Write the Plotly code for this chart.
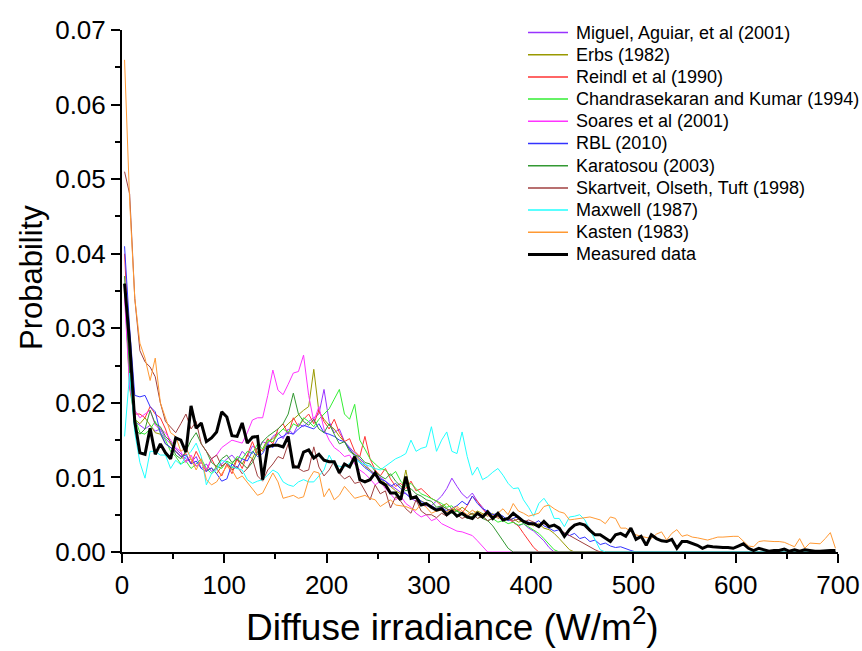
import plotly.graph_objects as go

# Bin centres of the diffuse irradiance histogram (W/m2), 5 W/m2 bins
N_BINS = 140
bin_centers = [2.5 + 5 * i for i in range(N_BINS)]

measured = [
    0.0360, 0.0280, 0.0175, 0.0133, 0.0131, 0.0166, 0.0131, 0.0145, 0.0133, 0.0125,
    0.0153, 0.0150, 0.0134, 0.0196, 0.0166, 0.0173, 0.0148, 0.0153, 0.0161, 0.0188,
    0.0181, 0.0156, 0.0155, 0.0173, 0.0146, 0.0154, 0.0155, 0.0097, 0.0141, 0.0143,
    0.0143, 0.0141, 0.0155, 0.0114, 0.0114, 0.0134, 0.0137, 0.0126, 0.0131, 0.0123,
    0.0121, 0.0121, 0.0106, 0.0118, 0.0114, 0.0128, 0.0097, 0.0094, 0.0097, 0.0106,
    0.0094, 0.0090, 0.0079, 0.0079, 0.0070, 0.0101, 0.0072, 0.0074, 0.0063, 0.0065,
    0.0060, 0.0056, 0.0058, 0.0050, 0.0055, 0.0048, 0.0052, 0.0047, 0.0045, 0.0052,
    0.0047, 0.0054, 0.0045, 0.0052, 0.0043, 0.0045, 0.0052, 0.0047, 0.0041, 0.0038,
    0.0038, 0.0034, 0.0041, 0.0034, 0.0036, 0.0032, 0.0021, 0.0030, 0.0036, 0.0038,
    0.0036, 0.0029, 0.0023, 0.0023, 0.0018, 0.0014, 0.0023, 0.0025, 0.0021, 0.0032,
    0.0017, 0.0021, 0.0009, 0.0023, 0.0018, 0.0015, 0.0014, 0.0017, 0.0005, 0.0014,
    0.0014, 0.0012, 0.0009, 0.0005, 0.0008, 0.0007, 0.0006, 0.0006, 0.0006, 0.0005,
    0.0008, 0.0011, 0.0005, 0.0002, 0.0005, 0.0003, 0.0001, 0.0002, 0.0002, 0.0004,
    0.0001, 0.0003, 0.0001, 0.0003, 0.0002, 0.0001, 0.0001, 0.0002, 0.0002, 0.0002,
]

kasten = [
    0.0660, 0.0470, 0.0340, 0.0280, 0.0260, 0.0230, 0.0260, 0.0200, 0.0180, 0.0160,
    0.0155, 0.0135, 0.0140, 0.0125, 0.0110, 0.0125, 0.0097, 0.0090, 0.0094, 0.0105,
    0.0115, 0.0110, 0.0098, 0.0102, 0.0093, 0.0085, 0.0076, 0.0079, 0.0092, 0.0106,
    0.0094, 0.0072, 0.0074, 0.0076, 0.0072, 0.0074, 0.0097, 0.0108, 0.0106, 0.0074,
    0.0085, 0.0070, 0.0076, 0.0088, 0.0080, 0.0072, 0.0074, 0.0076, 0.0072, 0.0070,
    0.0061, 0.0066, 0.0070, 0.0063, 0.0062, 0.0061, 0.0058, 0.0056, 0.0065, 0.0060,
    0.0052, 0.0055, 0.0056, 0.0054, 0.0058, 0.0061, 0.0055, 0.0050, 0.0056, 0.0052,
    0.0050, 0.0054, 0.0048, 0.0052, 0.0058, 0.0050, 0.0065, 0.0055, 0.0052, 0.0048,
    0.0050, 0.0052, 0.0061, 0.0063, 0.0058, 0.0054, 0.0052, 0.0043, 0.0044, 0.0045,
    0.0046, 0.0047, 0.0045, 0.0043, 0.0038, 0.0047, 0.0045, 0.0032, 0.0032, 0.0027,
    0.0023, 0.0021, 0.0019, 0.0018, 0.0024, 0.0027, 0.0016, 0.0025, 0.0030, 0.0021,
    0.0023, 0.0020, 0.0019, 0.0018, 0.0016, 0.0018, 0.0020, 0.0020, 0.0021, 0.0021,
    0.0021, 0.0015, 0.0008, 0.0007, 0.0014, 0.0015, 0.0014, 0.0014, 0.0014, 0.0013,
    0.0010, 0.0007, 0.0018, 0.0005, 0.0012, 0.0011, 0.0011, 0.0018, 0.0026, 0.0005,
]

skartveit = [
    0.0510, 0.0480, 0.0340, 0.0270, 0.0255, 0.0248, 0.0235, 0.0200, 0.0175, 0.0168,
    0.0160, 0.0172, 0.0185, 0.0165, 0.0175, 0.0145, 0.0135, 0.0125, 0.0130, 0.0115,
    0.0120, 0.0110, 0.0115, 0.0105, 0.0112, 0.0125, 0.0102, 0.0095, 0.0110, 0.0118,
    0.0128, 0.0125, 0.0145, 0.0118, 0.0112, 0.0108, 0.0110, 0.0141, 0.0114, 0.0102,
    0.0110, 0.0122, 0.0105, 0.0098, 0.0102, 0.0092, 0.0094, 0.0081, 0.0070, 0.0090,
    0.0078, 0.0082, 0.0059, 0.0074, 0.0068, 0.0058, 0.0052, 0.0070, 0.0055, 0.0050,
    0.0050, 0.0046, 0.0052, 0.0048, 0.0055, 0.0050, 0.0045, 0.0048, 0.0052, 0.0045,
    0.0048, 0.0042, 0.0045, 0.0048, 0.0044, 0.0046, 0.0042, 0.0044, 0.0040, 0.0043,
    0.0040, 0.0036, 0.0038, 0.0034, 0.0036, 0.0030, 0.0026, 0.0022, 0.0018, 0.0014,
    0.0010, 0.0006, 0.0003,
]

rbl = [
    0.0410, 0.0300, 0.0210, 0.0208, 0.0210, 0.0195, 0.0188, 0.0160, 0.0145, 0.0140,
    0.0135, 0.0128, 0.0130, 0.0118, 0.0122, 0.0112, 0.0108, 0.0113, 0.0105, 0.0095,
    0.0098, 0.0118, 0.0112, 0.0125, 0.0122, 0.0135, 0.0128, 0.0132, 0.0145, 0.0140,
    0.0152, 0.0155, 0.0160, 0.0158, 0.0165, 0.0170, 0.0168, 0.0165, 0.0172, 0.0160,
    0.0158, 0.0155, 0.0150, 0.0148, 0.0138, 0.0128, 0.0120, 0.0113, 0.0108, 0.0102,
    0.0098, 0.0095, 0.0088, 0.0092, 0.0085, 0.0078, 0.0072, 0.0075, 0.0068, 0.0064,
    0.0062, 0.0058, 0.0060, 0.0055, 0.0058, 0.0062, 0.0068, 0.0063, 0.0075, 0.0065,
    0.0058, 0.0055, 0.0050, 0.0052, 0.0048, 0.0042, 0.0045, 0.0048, 0.0042, 0.0040,
    0.0038, 0.0042, 0.0035, 0.0032, 0.0028, 0.0030, 0.0025, 0.0022, 0.0025, 0.0018,
    0.0020, 0.0014, 0.0016, 0.0010, 0.0012, 0.0008, 0.0006, 0.0007, 0.0004, 0.0002,
]

karatosou = [
    0.0370, 0.0240, 0.0165, 0.0158, 0.0165, 0.0190, 0.0172, 0.0168, 0.0155, 0.0148,
    0.0130, 0.0125, 0.0135, 0.0150, 0.0160, 0.0145, 0.0135, 0.0120, 0.0115, 0.0125,
    0.0130, 0.0120, 0.0125, 0.0118, 0.0112, 0.0120, 0.0135, 0.0148, 0.0155, 0.0160,
    0.0165, 0.0172, 0.0185, 0.0213, 0.0185, 0.0175, 0.0170, 0.0178, 0.0165, 0.0160,
    0.0172, 0.0158, 0.0145, 0.0148, 0.0135, 0.0130, 0.0128, 0.0120, 0.0118, 0.0108,
    0.0102, 0.0098, 0.0105, 0.0095, 0.0088, 0.0082, 0.0085, 0.0078, 0.0075, 0.0070,
    0.0068, 0.0060, 0.0062, 0.0058, 0.0052, 0.0055, 0.0050, 0.0045, 0.0048, 0.0052,
    0.0045, 0.0042, 0.0035, 0.0025, 0.0014, 0.0005,
]

chandrasekaran = [
    0.0360, 0.0240, 0.0180, 0.0160, 0.0158, 0.0165, 0.0175, 0.0160, 0.0150, 0.0135,
    0.0128, 0.0118, 0.0122, 0.0112, 0.0118, 0.0125, 0.0112, 0.0105, 0.0115, 0.0112,
    0.0122, 0.0118, 0.0128, 0.0125, 0.0135, 0.0132, 0.0145, 0.0138, 0.0150, 0.0148,
    0.0158, 0.0165, 0.0160, 0.0172, 0.0168, 0.0180, 0.0175, 0.0168, 0.0178, 0.0185,
    0.0192, 0.0205, 0.0218, 0.0185, 0.0178, 0.0198, 0.0150, 0.0138, 0.0125, 0.0118,
    0.0112, 0.0110, 0.0102, 0.0108, 0.0095, 0.0088, 0.0092, 0.0085, 0.0078, 0.0075,
    0.0072, 0.0068, 0.0065, 0.0060, 0.0062, 0.0055, 0.0052, 0.0048, 0.0052, 0.0045,
    0.0048, 0.0042, 0.0045, 0.0040, 0.0042, 0.0038, 0.0040, 0.0036, 0.0038, 0.0034,
    0.0030, 0.0025, 0.0018, 0.0010, 0.0003,
]

miguel = [
    0.0350, 0.0230, 0.0175, 0.0170, 0.0165, 0.0170, 0.0162, 0.0165, 0.0152, 0.0145,
    0.0138, 0.0132, 0.0125, 0.0120, 0.0128, 0.0112, 0.0118, 0.0108, 0.0112, 0.0118,
    0.0125, 0.0130, 0.0122, 0.0135, 0.0128, 0.0142, 0.0138, 0.0148, 0.0145, 0.0155,
    0.0160, 0.0152, 0.0165, 0.0158, 0.0172, 0.0168, 0.0175, 0.0180, 0.0185, 0.0218,
    0.0175, 0.0160, 0.0165, 0.0148, 0.0140, 0.0132, 0.0125, 0.0118, 0.0110, 0.0105,
    0.0100, 0.0095, 0.0090, 0.0085, 0.0080, 0.0078, 0.0072, 0.0068, 0.0065, 0.0062,
    0.0062, 0.0068, 0.0075, 0.0085, 0.0099, 0.0088, 0.0078, 0.0072, 0.0079, 0.0068,
    0.0060, 0.0050, 0.0045, 0.0048, 0.0042, 0.0045, 0.0040, 0.0035, 0.0038, 0.0032,
    0.0028, 0.0022, 0.0015, 0.0006,
]

erbs = [
    0.0360, 0.0220, 0.0178, 0.0172, 0.0180, 0.0170, 0.0160, 0.0158, 0.0145, 0.0140,
    0.0135, 0.0128, 0.0122, 0.0125, 0.0115, 0.0120, 0.0110, 0.0112, 0.0105, 0.0115,
    0.0120, 0.0112, 0.0125, 0.0118, 0.0130, 0.0125, 0.0140, 0.0135, 0.0148, 0.0152,
    0.0158, 0.0165, 0.0172, 0.0178, 0.0185, 0.0190, 0.0195, 0.0245, 0.0188, 0.0178,
    0.0170, 0.0165, 0.0155, 0.0148, 0.0138, 0.0130, 0.0122, 0.0115, 0.0110, 0.0102,
    0.0098, 0.0092, 0.0088, 0.0082, 0.0078, 0.0110, 0.0075, 0.0072, 0.0068, 0.0065,
    0.0062, 0.0058, 0.0062, 0.0065, 0.0058, 0.0055, 0.0060, 0.0055, 0.0050, 0.0055,
    0.0052, 0.0048, 0.0052, 0.0045, 0.0048, 0.0042, 0.0045, 0.0040, 0.0042, 0.0038,
    0.0035, 0.0038, 0.0032, 0.0030, 0.0025, 0.0018, 0.0010, 0.0003,
]

reindl = [
    0.0400, 0.0260, 0.0185, 0.0185, 0.0180, 0.0195, 0.0185, 0.0180, 0.0165, 0.0145,
    0.0135, 0.0128, 0.0132, 0.0118, 0.0135, 0.0122, 0.0108, 0.0125, 0.0112, 0.0102,
    0.0118, 0.0105, 0.0125, 0.0112, 0.0130, 0.0148, 0.0130, 0.0138, 0.0152, 0.0145,
    0.0165, 0.0172, 0.0158, 0.0180, 0.0168, 0.0178, 0.0185, 0.0172, 0.0190, 0.0175,
    0.0165, 0.0178, 0.0160, 0.0148, 0.0152, 0.0135, 0.0128, 0.0155, 0.0125, 0.0110,
    0.0102, 0.0112, 0.0098, 0.0088, 0.0092, 0.0085, 0.0095, 0.0082, 0.0085, 0.0078,
    0.0072, 0.0068, 0.0062, 0.0058, 0.0055, 0.0058, 0.0052, 0.0062, 0.0075, 0.0068,
    0.0058, 0.0050, 0.0045, 0.0048, 0.0042, 0.0045, 0.0040, 0.0035, 0.0025, 0.0015,
    0.0006,
]

soares = [
    0.0340, 0.0220, 0.0190, 0.0180, 0.0185, 0.0190, 0.0170, 0.0165, 0.0160, 0.0150,
    0.0140, 0.0135, 0.0120, 0.0130, 0.0115, 0.0120, 0.0110, 0.0125, 0.0130, 0.0140,
    0.0145, 0.0150, 0.0148, 0.0146, 0.0160, 0.0177, 0.0180, 0.0180, 0.0210, 0.0244,
    0.0217, 0.0211, 0.0225, 0.0240, 0.0242, 0.0264, 0.0210, 0.0175, 0.0195, 0.0165,
    0.0150, 0.0140, 0.0135, 0.0128, 0.0130, 0.0118, 0.0110, 0.0105, 0.0098, 0.0090,
    0.0095, 0.0085, 0.0078, 0.0070, 0.0075, 0.0065, 0.0060, 0.0052, 0.0047, 0.0050,
    0.0042, 0.0045, 0.0038, 0.0035, 0.0032, 0.0028, 0.0027, 0.0025, 0.0022, 0.0015,
    0.0008,
]

maxwell = [
    0.0155, 0.0240, 0.0160, 0.0120, 0.0099, 0.0135, 0.0135, 0.0130, 0.0130, 0.0112,
    0.0123, 0.0117, 0.0128, 0.0135, 0.0146, 0.0128, 0.0090, 0.0105, 0.0110, 0.0123,
    0.0120, 0.0114, 0.0112, 0.0110, 0.0097, 0.0092, 0.0095, 0.0097, 0.0103, 0.0110,
    0.0106, 0.0094, 0.0090, 0.0088, 0.0094, 0.0097, 0.0094, 0.0094, 0.0102, 0.0110,
    0.0130, 0.0117, 0.0115, 0.0114, 0.0119, 0.0125, 0.0120, 0.0118, 0.0115, 0.0112,
    0.0110, 0.0115, 0.0120, 0.0125, 0.0128, 0.0132, 0.0150, 0.0135, 0.0139, 0.0141,
    0.0168, 0.0135, 0.0150, 0.0161, 0.0135, 0.0132, 0.0161, 0.0128, 0.0103, 0.0114,
    0.0097, 0.0101, 0.0107, 0.0112, 0.0103, 0.0092, 0.0085, 0.0086, 0.0070, 0.0060,
    0.0048, 0.0065, 0.0072, 0.0062, 0.0045, 0.0045, 0.0034, 0.0047, 0.0048, 0.0050,
    0.0043, 0.0030, 0.0015, 0.0003,
]

series_names = [
    "Miguel, Aguiar, et al (2001)",
    "Erbs (1982)",
    "Reindl et al (1990)",
    "Chandrasekaran and Kumar (1994)",
    "Soares et al (2001)",
    "RBL (2010)",
    "Karatosou (2003)",
    "Skartveit, Olseth, Tuft (1998)",
    "Maxwell (1987)",
    "Kasten (1983)",
    "Measured data",
]
series_values = [miguel, erbs, reindl, chandrasekaran, soares, rbl,
                 karatosou, skartveit, maxwell, kasten, measured]
series_colors = ["#9933ff", "#999900", "#ff3333", "#33ee33", "#ff33ff",
                 "#3333ff", "#339933", "#a04040", "#22ffff", "#ff9933", "#000000"]
series_widths = [1, 1, 1, 1, 1, 1, 1, 1, 1, 1, 3]

x_ticks = [0, 100, 200, 300, 400, 500, 600, 700]
y_ticks = [0.00, 0.01, 0.02, 0.03, 0.04, 0.05, 0.06, 0.07]
x_title = "Diffuse irradiance (W/m<sup>2</sup>)"
y_title = "Probability"


def with_zero_tail(vals):
    # model curves lie on the zero line beyond their last non-zero bin
    return list(vals) + [0.0] * (N_BINS - len(vals))


fig = go.Figure()
for name, vals, col, w in zip(series_names, series_values, series_colors, series_widths):
    yv = with_zero_tail(vals)
    fig.add_trace(go.Scatter(
        x=bin_centers[:len(yv)], y=yv, mode="lines", name=name,
        line=dict(color=col, width=w), showlegend=False,
    ))

PLOT_L, PLOT_R, PLOT_T, PLOT_B = 122, 838, 30, 552
W_PX, H_PX = PLOT_R - PLOT_L, PLOT_B - PLOT_T


def px_x(p):
    return (p - PLOT_L) / W_PX


def px_y(p):
    return (PLOT_B - p) / H_PX


FONT = "Liberation Sans, Arial, sans-serif"
shapes, annotations = [], []
# Legend: line samples + labels, 22 px row pitch
for i, (name, col, w) in enumerate(zip(series_names, series_colors, series_widths)):
    yc = 32.5 + 22.2 * i
    shapes.append(dict(type="line", xref="paper", yref="paper",
                       x0=px_x(528), x1=px_x(568), y0=px_y(yc), y1=px_y(yc),
                       line=dict(color=col, width=3 if w >= 3 else 1.5)))
    annotations.append(dict(xref="paper", yref="paper", x=px_x(574), y=px_y(yc),
                            xanchor="left", yanchor="middle", text=name, showarrow=False,
                            font=dict(size=18, family=FONT, color="black")))

# Axis titles (placed as in the reference, slightly off-centre)
annotations.append(dict(xref="paper", yref="paper", x=px_x(452), y=px_y(624),
                        xanchor="center", yanchor="middle", text=x_title, showarrow=False,
                        font=dict(size=37, family=FONT, color="black")))
annotations.append(dict(xref="paper", yref="paper", x=px_x(31), y=px_y(278),
                        xanchor="center", yanchor="middle", text=y_title, showarrow=False,
                        textangle=-90, font=dict(size=31, family=FONT, color="black")))

fig.update_layout(
    width=862, height=651,
    margin=dict(l=PLOT_L, r=862 - PLOT_R, t=PLOT_T, b=651 - PLOT_B, autoexpand=False),
    paper_bgcolor="white", plot_bgcolor="white",
    font=dict(family=FONT, color="black"),
    showlegend=False,
    shapes=shapes, annotations=annotations,
    xaxis=dict(
        range=[0, 700], tickvals=x_ticks, ticktext=[str(v) for v in x_ticks],
        showgrid=False, zeroline=False, showline=True, linecolor="black", linewidth=2,
        ticks="outside", ticklen=9, tickwidth=2, tickcolor="black",
        tickfont=dict(size=26, family=FONT), automargin=False,
        minor=dict(dtick=50, ticklen=5, tickwidth=2, tickcolor="black", ticks="outside"),
    ),
    yaxis=dict(
        range=[0, 0.07], tickvals=y_ticks, ticktext=["%.2f" % v for v in y_ticks],
        showgrid=False, zeroline=False, showline=True, linecolor="black", linewidth=2,
        ticks="outside", ticklen=9, tickwidth=2, tickcolor="black",
        tickfont=dict(size=26, family=FONT), automargin=False,
        minor=dict(dtick=0.005, ticklen=5, tickwidth=2, tickcolor="black", ticks="outside"),
    ),
)

fig.write_html("out.html", config={"displayModeBar": False},
               post_script="document.body.style.margin='0';document.body.style.overflow='hidden';")
